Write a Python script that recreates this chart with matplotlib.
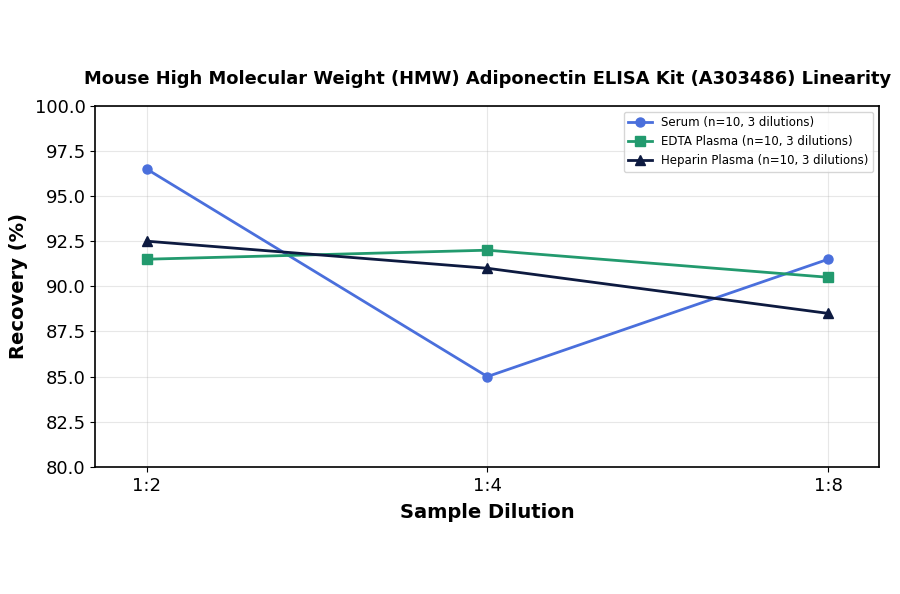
import matplotlib.pyplot as plt

# dilutions and recovery values
dilutions = ["1:2", "1:4", "1:8"]
serum = [96.5, 85.0, 91.5]
edta = [91.5, 92.0, 90.5]
heparin = [92.5, 91.0, 88.5]

fig = plt.figure(figsize=(9, 5.94), dpi=100)
ax = fig.add_axes([0.106, 0.214, 0.871, 0.608])

x = range(len(dilutions))
ax.plot(x, serum, color="#4a6fdc", marker="o", linewidth=2, markersize=6.5,
        label="Serum (n=10, 3 dilutions)")
ax.plot(x, edta, color="#229a6e", marker="s", linewidth=2, markersize=6.5,
        label="EDTA Plasma (n=10, 3 dilutions)")
ax.plot(x, heparin, color="#0d1a40", marker="^", linewidth=2, markersize=6.5,
        label="Heparin Plasma (n=10, 3 dilutions)")

ax.set_xticks(list(x))
ax.set_xticklabels(dilutions)
ax.set_xlim(-0.15, 2.15)
ax.set_ylim(80, 100)
ax.set_yticks([80 + 2.5 * i for i in range(9)])
ax.tick_params(labelsize=13)
ax.grid(True, alpha=0.3)
for s in ax.spines.values():
    s.set_linewidth(1.2)

ax.set_xlabel("Sample Dilution", fontsize=14, fontweight="bold", labelpad=6)
ax.set_ylabel("Recovery (%)", fontsize=14, fontweight="bold", labelpad=5)
ax.set_title("Mouse High Molecular Weight (HMW) Adiponectin ELISA Kit (A303486) Linearity",
             fontsize=12.9, fontweight="bold", pad=16)
ax.legend(loc="upper right", fontsize=8.5)

plt.savefig("out.png")
